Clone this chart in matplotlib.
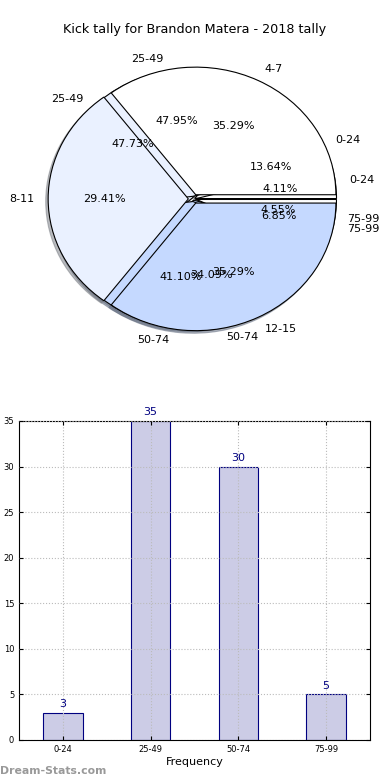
import matplotlib
matplotlib.use('Agg')
import matplotlib.pyplot as plt

# kicks per quarter-band (pie A) and per distance band (pies B, C)
quarter_labels = ['4-7', '8-11', '12-15']
quarter_kicks = [6, 5, 6]
band_labels = ['0-24', '25-49', '50-74', '75-99']
band_kicks_b = [3, 35, 30, 5]
band_kicks_c = [6, 21, 15, 2]

# bar chart data
bar_labels = ['0-24', '25-49', '50-74', '75-99']
bar_values = [3, 35, 30, 5]

pie_colors = ['white', '#eaf1ff', '#c5d9ff']
shadow = dict(ox=-0.012, oy=-0.014, shade=0.5)
edge = dict(edgecolor='black', linewidth=0.8)

fig = plt.figure(figsize=(3.9, 7.8), dpi=100)

# pie section
ax1 = fig.add_axes([0.028, 0.532, 0.936, 0.426])
ax1.pie(band_kicks_c, labels=band_labels, autopct='%1.2f%%',
        colors=pie_colors + ['white'], shadow=shadow, radius=0.96,
        explode=[0.01] * 4, wedgeprops=edge, textprops=dict(fontsize=8))
ax1.pie(band_kicks_b, labels=band_labels, autopct='%1.2f%%',
        colors=pie_colors + ['white'], shadow=shadow, radius=0.96,
        explode=[0.02] * 4, wedgeprops=edge, textprops=dict(fontsize=8))
ax1.pie(quarter_kicks, labels=quarter_labels, autopct='%1.2f%%',
        colors=pie_colors, shadow=shadow, radius=0.96,
        explode=[0.035] * 3, wedgeprops=edge, textprops=dict(fontsize=8))
ax1.set_aspect('auto')
ax1.set_xlim(-1.25, 1.25)
ax1.set_ylim(-1.25, 1.25)

fig.text(0.5, 0.962, 'Kick tally for Brandon Matera - 2018 tally',
         ha='center', va='center', fontsize=9.2)

# bar section
ax2 = fig.add_axes([0.0487, 0.0513, 0.9, 0.409])
x = range(len(bar_values))
bars = ax2.bar(x, bar_values, width=0.45, color='#ccccE6', edgecolor='navy', linewidth=0.8)
for b, v in zip(bars, bar_values):
    ax2.text(b.get_x() + b.get_width() / 2, v + 0.4, str(v),
             ha='center', va='bottom', color='navy', fontsize=8)
ax2.set_xlim(-0.5, 3.5)
ax2.set_ylim(0, 35)
ax2.set_xticks(list(x))
ax2.set_xticklabels(bar_labels)
ax2.set_yticks(range(0, 36, 5))
ax2.tick_params(labelsize=6, direction='in', top=True, right=True, length=3)
ax2.grid(True, linestyle=':', color='#bbbbbb', linewidth=0.8)
ax2.set_axisbelow(False)
ax2.set_xlabel('Frequency', fontsize=8, labelpad=2)
ax2.set_ylabel('Distance Intervals', fontsize=8)
ax2.yaxis.set_label_coords(-0.062, 0.5)

fig.text(0.0, 0.012, 'Dream-Stats.com', color='#999999', fontsize=7.8,
         fontweight='bold', ha='left', va='center')

fig.savefig('out.png', dpi=100)
